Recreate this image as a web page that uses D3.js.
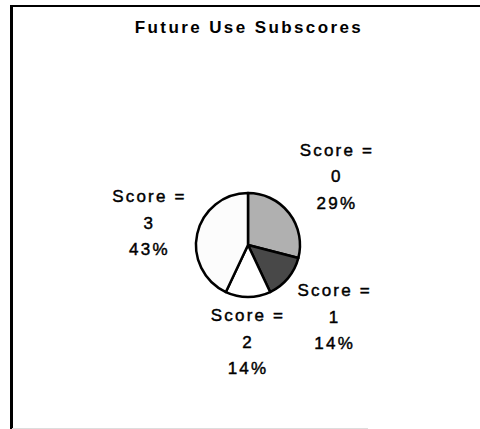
<!DOCTYPE html>
<html>
<head>
<meta charset="utf-8">
<script src="https://cdn.jsdelivr.net/npm/d3@7"></script>
<style>
  body { margin: 0; background: #fff; }
  text { font-family: "Liberation Sans", Arial, sans-serif; fill: #000; }
</style>
</head>
<body>
<div id="chart"></div>
<script>
var width = 480, height = 429;

// data
var scores = ['0', '1', '2', '3'];
var shares = [29, 14, 14, 43];
var fills = ['#b0b0b0', '#484848', '#ffffff', '#fcfcfc'];
var title = 'Future Use Subscores';

var cx = 248, cy = 245, radius = 52, labelGap = 61;

var svg = d3.select('#chart')
    .append('svg:svg')
    .attr('width', width)
    .attr('height', height);

svg.append('rect')
    .attr('width', width)
    .attr('height', height)
    .attr('fill', '#fff');

// frame: heavy left and top edges, faint bottom
svg.append('line')
    .attr('x1', 11.5).attr('y1', 5).attr('x2', 11.5).attr('y2', 429)
    .attr('stroke', '#000').attr('stroke-width', 3);
svg.append('line')
    .attr('x1', 10).attr('y1', 6).attr('x2', 480).attr('y2', 6)
    .attr('stroke', '#000').attr('stroke-width', 2);
svg.append('line')
    .attr('x1', 12).attr('y1', 428.5).attr('x2', 368).attr('y2', 428.5)
    .attr('stroke', '#ddd').attr('stroke-width', 1);

svg.append('text')
    .attr('x', 249)
    .attr('y', 33)
    .attr('text-anchor', 'middle')
    .attr('font-size', 17)
    .attr('font-weight', 'bold')
    .attr('letter-spacing', 2.4)
    .text(title);

var pie = d3.pie().sort(null).value(function (d) { return d; });
var arcs = pie(shares);

var arc = d3.arc().innerRadius(0).outerRadius(radius);

var g = svg.append('g')
    .attr('transform', 'translate(' + cx + ',' + cy + ')');

g.selectAll('.slice')
    .data(arcs)
    .enter().append('path')
    .attr('class', 'slice')
    .attr('d', arc)
    .attr('fill', function (d, i) { return fills[i]; })
    .attr('stroke', '#000')
    .attr('stroke-width', 2.5)
    .attr('stroke-linejoin', 'round');

var labels = g.selectAll('.label')
    .data(arcs)
    .enter().append('text')
    .attr('class', 'label')
    .attr('text-anchor', 'middle')
    .attr('font-size', 17)
    .attr('letter-spacing', 2.2)
    .attr('stroke', '#000')
    .attr('stroke-width', 0.45);

labels.each(function (d, i) {
    var t = d3.select(this);
    var lines = ['Score =', scores[i], shares[i] + '%'];
    lines.forEach(function (s, k) {
        t.append('tspan')
            .attr('x', 0)
            .attr('y', (k - 1) * 26.5 + 6)
            .text(s);
    });
    // push the label block outward along the mid angle until it clears the pie
    var b = this.getBBox();
    var a = (d.startAngle + d.endAngle) / 2;
    var ux = Math.sin(a), uy = -Math.cos(a);
    var dist = 0;
    for (var r = 0; r < 200; r += 0.5) {
        var x0 = b.x + ux * r, x1 = x0 + b.width;
        var y0 = b.y + uy * r, y1 = y0 + b.height;
        var nx = Math.max(x0, Math.min(0, x1));
        var ny = Math.max(y0, Math.min(0, y1));
        if (Math.sqrt(nx * nx + ny * ny) >= labelGap) { dist = r; break; }
    }
    t.attr('transform', 'translate(' + ux * dist + ',' + uy * dist + ')');
});
</script>
</body>
</html>
